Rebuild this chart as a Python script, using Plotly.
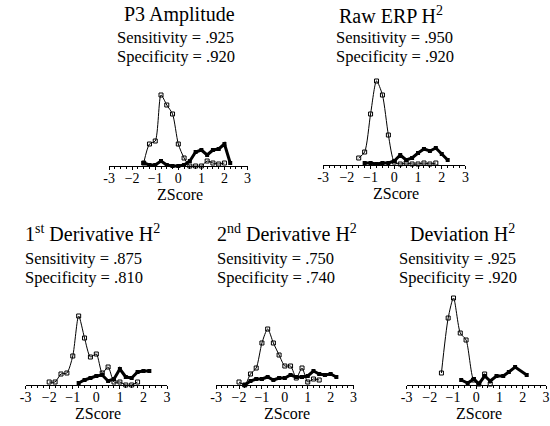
import plotly.graph_objects as go

W, H = 550, 426
FONT = "Liberation Serif"

# ---------------- data ----------------
titles = ["P3 Amplitude", "Raw ERP H<sup>2</sup>", "1<sup>st</sup> Derivative H<sup>2</sup>",
          "2<sup>nd</sup> Derivative H<sup>2</sup>", "Deviation H<sup>2</sup>"]
sensitivity = [".925", ".950", ".875", ".750", ".925"]
specificity = [".920", ".920", ".810", ".740", ".920"]
tick_vals = [-3, -2, -1, 0, 1, 2, 3]
tick_text = ["-3", "\u22122", "\u22121", "0", "1", "2", "3"]
x_label = "ZScore"

p3_thin_x = [-1.5, -1.25, -1, -0.75, -0.5, -0.25, 0, 0.25, 0.5, 0.75, 1, 1.25, 1.5, 1.75, 2]
p3_thin_y = [3, 22, 25, 71, 61, 52, 22, 8, 0, 0, 0, 5, 3, 2, 3]
p3_thick_x = [-1.5, -1.25, -1, -0.75, -0.5, -0.25, 0, 0.25, 0.5, 0.75, 1, 1.25, 1.5, 1.75, 2, 2.25]
p3_thick_y = [3, 1, 1, 5, 1, 0, 0, 1, 5, 14, 16, 11, 16, 17, 22, 3]

raw_thin_x = [-1.5, -1.25, -1, -0.75, -0.5, -0.25, 0, 0.25, 0.5, 0.75, 1, 1.25, 1.5, 1.75]
raw_thin_y = [7, 13, 51, 84, 70, 30, 3, 1, 2, 1, 1, 2, 1, 2]
raw_thick_x = [-1.25, -1, -0.75, -0.5, -0.25, 0, 0.25, 0.5, 0.75, 1, 1.25, 1.5, 1.75, 2, 2.25]
raw_thick_y = [2, 2, 1, 2, 2, 4, 10, 5, 7, 12, 16, 14, 17, 11, 5]

d1_thin_x = [-2, -1.75, -1.5, -1.25, -1, -0.75, -0.5, -0.25, 0, 0.25, 0.5, 0.75, 1, 1.25, 1.5, 1.75]
d1_thin_y = [3, 3, 11, 12, 29, 69, 47, 28, 31, 12, 18, 3, 3, 0, 0, 3]
d1_thick_x = [-0.75, -0.5, -0.25, 0, 0.25, 0.5, 0.75, 1, 1.25, 1.5, 1.75, 2, 2.25]
d1_thick_y = [2, 5, 7, 9, 10, 4, 6, 16, 8, 7, 13, 14, 14]

d2_thin_x = [-2, -1.75, -1.5, -1.25, -1, -0.75, -0.5, -0.25, 0, 0.25, 0.5, 0.75, 1, 1.25, 1.5]
d2_thin_y = [3, 0, 11, 17, 42, 56, 42, 30, 19, 19, 7, 17, 3, 6, 5]
d2_thick_x = [-1.75, -1.5, -1.25, -1, -0.75, -0.5, -0.25, 0, 0.25, 0.5, 0.75, 1, 1.25, 1.5, 1.75, 2, 2.25]
d2_thick_y = [0, 4, 6, 6, 8, 5, 7, 7, 10, 8, 8, 9, 14, 11, 10, 11, 8]

dev_thin_x = [-1.5, -1.21, -0.98, -0.69, -0.44, -0.12, 0.11, 0.36, 0.6]
dev_thin_y = [12, 67, 87, 52, 45, 5, 1, 11, 1]
dev_thick_x = [-0.65, -0.37, -0.1, 0.11, 0.36, 0.6, 0.87, 1.16, 1.4, 1.67, 2.17]
dev_thick_y = [5, 2, 6, 1, 9, 4, 9, 9, 13, 18, 10]

thin_x = [p3_thin_x, raw_thin_x, d1_thin_x, d2_thin_x, dev_thin_x]
thin_y = [p3_thin_y, raw_thin_y, d1_thin_y, d2_thin_y, dev_thin_y]
thick_x = [p3_thick_x, raw_thick_x, d1_thick_x, d2_thick_x, dev_thick_x]
thick_y = [p3_thick_y, raw_thick_y, d1_thick_y, d2_thick_y, dev_thick_y]

# ---------------- layout (pixel geometry) ----------------
axis_px = [(105, 246, 166), (323, 468, 165), (20, 164, 385), (214, 354, 385), (408, 551, 385)]
title_left = [118, 337, 17, 213, 409]
text_left = [111, 334, 17, 213, 398]
row_text_y = {0: (15, 38, 56), 1: (233, 258, 277)}
row_of = [0, 0, 1, 1, 1]

def px(x):
    return x / W

def py(y):
    return 1 - y / H

fig = go.Figure()
annotations = []
for i in range(5):
    k = "" if i == 0 else str(i + 1)
    x0, x1, base = axis_px[i]
    fig.add_trace(go.Scatter(
        x=thin_x[i], y=thin_y[i], mode="lines+markers",
        line=dict(color="black", width=1, shape="spline", smoothing=0.7),
        marker=dict(symbol="square-open", size=4, color="black", line=dict(width=1)),
        xaxis="x" + k, yaxis="y" + k, showlegend=False, cliponaxis=False))
    fig.add_trace(go.Scatter(
        x=thick_x[i], y=thick_y[i], mode="lines+markers",
        line=dict(color="black", width=3),
        marker=dict(symbol="square", size=4, color="black"),
        xaxis="x" + k, yaxis="y" + k, showlegend=False, cliponaxis=False))
    fig.layout["xaxis" + k] = dict(
        domain=[px(x0), min(px(x1), 1.0)], range=[-3, 3], anchor="free", position=py(base),
        showline=True, linecolor="black", linewidth=1, ticks="outside", ticklen=3,
        tickcolor="black", tickvals=tick_vals, ticktext=tick_text, ticklabelstandoff=-4,
        tickfont=dict(family=FONT, size=14, color="black"),
        showgrid=False, zeroline=False,
        minor=dict(ticks="outside", ticklen=2, dtick=0.25, tick0=0, tickcolor="black", showgrid=False))
    fig.layout["yaxis" + k] = dict(
        domain=[py(base + 8), py(base - 100)], range=[-8, 100], visible=False,
        anchor="x" + k, fixedrange=True)
    ty, sy, spy = row_text_y[row_of[i]]
    annotations.append(dict(text=titles[i], x=px(title_left[i]), y=py(ty), xref="paper", yref="paper",
                            xanchor="left", yanchor="middle", showarrow=False,
                            font=dict(family=FONT, size=20, color="black")))
    annotations.append(dict(text="Sensitivity = " + sensitivity[i], x=px(text_left[i]), y=py(sy),
                            xref="paper", yref="paper", xanchor="left", yanchor="middle",
                            showarrow=False, font=dict(family=FONT, size=16.5, color="black")))
    annotations.append(dict(text="Specificity = " + specificity[i], x=px(text_left[i]), y=py(spy),
                            xref="paper", yref="paper", xanchor="left", yanchor="middle",
                            showarrow=False, font=dict(family=FONT, size=16.5, color="black")))
    annotations.append(dict(text=x_label, x=px((x0 + x1) / 2 + 2), y=py(base + 28),
                            xref="paper", yref="paper", xanchor="center", yanchor="middle",
                            showarrow=False, font=dict(family=FONT, size=16, color="black")))

fig.update_layout(width=W, height=H, margin=dict(l=0, r=0, t=0, b=0),
                  paper_bgcolor="white", plot_bgcolor="white",
                  annotations=annotations, showlegend=False)
fig.write_html("out.html")
